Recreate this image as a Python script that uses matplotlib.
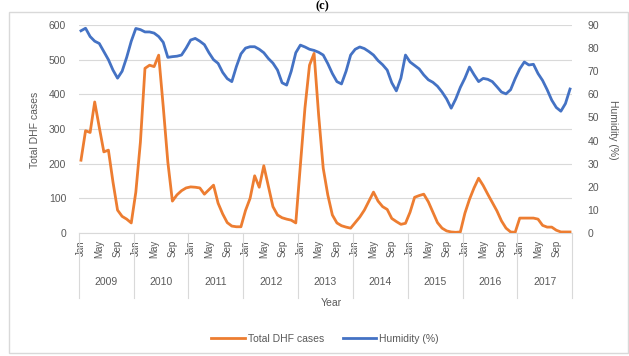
import numpy as np
import matplotlib
matplotlib.use("Agg")
import matplotlib.pyplot as plt
from matplotlib.lines import Line2D
from matplotlib.patches import Rectangle
from matplotlib.transforms import blended_transform_factory

plt.rcParams["font.family"] = ["Liberation Sans", "DejaVu Sans"]

years = [2009, 2010, 2011, 2012, 2013, 2014, 2015, 2016, 2017]
month_labels = ["Jan", "May", "Sep"]
month_label_idx = [0, 4, 8]

# Monthly total DHF cases, Jan 2009 - Dec 2017
dhf_cases = [
    210, 295, 290, 378, 305, 234, 239, 147, 66, 48, 40, 29,      # 2009
    118, 262, 475, 484, 480, 513, 364, 205, 92, 110, 122, 130,   # 2010
    133, 132, 130, 112, 125, 138, 86, 55, 30, 20, 18, 18,        # 2011
    65, 100, 165, 132, 194, 135, 76, 52, 44, 40, 37, 29,         # 2012
    195, 360, 484, 518, 340, 187, 110, 52, 29, 21, 17, 14,       # 2013
    30, 46, 66, 92, 118, 92, 76, 68, 42, 33, 25, 28,             # 2014
    60, 103, 108, 112, 90, 60, 30, 14, 6, 3, 2, 3,               # 2015
    57, 97, 130, 158, 137, 112, 88, 64, 35, 14, 3, 2,            # 2016
    43, 43, 43, 43, 40, 22, 17, 17, 8, 3, 3, 3,                  # 2017
]

# Monthly mean relative humidity (%), Jan 2009 - Dec 2017
humidity = [
    87.5, 88.6, 85.0, 83.0, 82.0, 78.5, 75.0, 70.5, 67.0, 70.0, 76.0, 83.0,
    88.5, 88.0, 87.0, 87.0, 86.5, 85.0, 82.5, 76.0, 76.3, 76.5, 77.0, 80.0,
    83.5, 84.2, 83.0, 81.5, 78.0, 75.0, 73.4, 69.5, 66.8, 65.5, 72.0, 77.5,
    80.0, 80.6, 80.6, 79.5, 78.0, 75.5, 73.5, 70.5, 65.0, 64.0, 70.0, 78.0,
    81.3, 80.5, 79.5, 79.0, 78.2, 77.0, 73.3, 69.0, 65.5, 64.5, 70.0, 77.0,
    79.5, 80.5, 79.8, 78.5, 77.0, 74.6, 72.8, 70.5, 65.0, 61.5, 67.0, 77.0,
    74.0, 72.5, 71.0, 68.4, 66.3, 65.2, 63.5, 61.0, 58.0, 54.0, 58.0, 63.0,
    67.0, 71.8, 68.5, 65.5, 66.9, 66.5, 65.5, 63.3, 61.0, 60.2, 62.0, 66.8,
    71.0, 74.0, 72.7, 73.0, 69.0, 66.0, 62.0, 57.5, 54.3, 52.7, 56.0, 62.3,
]

ORANGE = "#ED7D31"
BLUE = "#4472C4"
TEXT = "#595959"
GRID = "#D9D9D9"

W, H = 629, 356
fig = plt.figure(figsize=(W / 100, H / 100), dpi=100)

# outer chart frame
fig.patches.append(Rectangle((9 / W, 3 / H), 619 / W, 341 / H,
                             transform=fig.transFigure, fill=False,
                             edgecolor=GRID, linewidth=1.0))

fig.text(322 / W, 0.999, "(c)", ha="center", va="top",
         fontsize=9, fontweight="bold", family="Liberation Serif")

left, right, top, bottom = 78.7, 572.3, 25, 233
ax = fig.add_axes([left / W, (H - bottom) / H, (right - left) / W, (bottom - top) / H])
ax2 = ax.twinx()

n = len(dhf_cases)
x = np.arange(n)

ax.plot(x, dhf_cases, color=ORANGE, lw=2.0, solid_joinstyle="round", zorder=3)
ax2.plot(x, humidity, color=BLUE, lw=2.0, solid_joinstyle="round", zorder=3)

ax.set_xlim(-0.5, n - 0.5)
ax.set_ylim(0, 600)
ax.set_yticks(np.arange(0, 601, 100))
ax2.set_ylim(0, 90)
ax2.set_yticks(np.arange(0, 91, 10))

ax.yaxis.grid(True, color=GRID, lw=0.8)
ax.set_axisbelow(True)
for a in (ax, ax2):
    for s in a.spines.values():
        s.set_visible(False)
ax.spines["bottom"].set_visible(True)
ax.spines["bottom"].set_color(GRID)

ax.tick_params(axis="y", length=0, pad=9, labelsize=7.5, labelcolor=TEXT)
ax2.tick_params(axis="y", length=0, pad=11, labelsize=7.5, labelcolor=TEXT)

ticks, labels = [], []
for yi, _ in enumerate(years):
    for m, lab in zip(month_label_idx, month_labels):
        ticks.append(yi * 12 + m)
        labels.append(lab)
ax.set_xticks(ticks)
ax.set_xticklabels(labels, rotation=90, fontsize=7, color=TEXT)
ax.tick_params(axis="x", length=0, pad=5)

# year group labels and separators
trans = blended_transform_factory(ax.transData, fig.transFigure)
y_top, y_bot = (H - bottom) / H, (H - 298) / H
for yi, yr in enumerate(years):
    ax.add_line(Line2D([yi * 12 - 0.5] * 2, [y_top, y_bot], transform=trans,
                       color=GRID, lw=0.8, clip_on=False))
    ax.text(yi * 12 + 5.5, (H - 282) / H, str(yr), transform=trans,
            ha="center", va="center", fontsize=7.5, color=TEXT)
ax.add_line(Line2D([n - 0.5] * 2, [y_top, y_bot], transform=trans,
                   color=GRID, lw=0.8, clip_on=False))

fig.text(331 / W, (H - 303) / H, "Year", ha="center", va="center",
         fontsize=7.5, color=TEXT)
fig.text(35 / W, (H - 130) / H, "Total DHF cases", rotation=90,
         ha="center", va="center", fontsize=7.5, color=TEXT)
fig.text(613 / W, (H - 130) / H, "Humidity (%)", rotation=270,
         ha="center", va="center", fontsize=7.5, color=TEXT)

handles = [Line2D([], [], color=ORANGE, lw=2.0), Line2D([], [], color=BLUE, lw=2.0)]
fig.legend(handles, ["Total DHF cases", "Humidity (%)"], loc="center",
           bbox_to_anchor=(325 / W, (H - 339) / H), ncol=2, frameon=False,
           fontsize=7.5, labelcolor=TEXT, handlelength=3.2, handletextpad=0.3,
           columnspacing=1.8)

fig.savefig("out.png", dpi=100)
